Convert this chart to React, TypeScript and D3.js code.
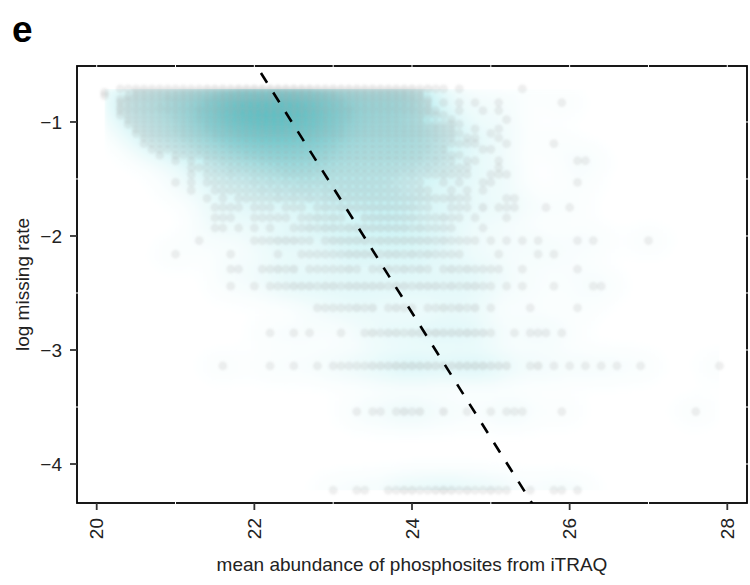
import React, { useMemo } from "react";
import * as d3 from "d3";

const W = 750;
const H = 585;
const M = { left: 77, right: 747, top: 66, bottom: 503 };

const xTicks = [20, 22, 24, 26, 28];
const yTicks = [-1, -2, -3, -4];
const topMarks = [20, 21, 22, 23, 24, 25, 26, 27, 28];
const bottomMarks = [21, 23, 25, 27];
const leftMarks = [-1.5, -2.5, -3.5];
const rightMarks = [-1, -1.5, -2, -2.5, -3, -3.5, -4];

const xDomain = [19.75, 28.25];
const yDomain = [-4.342, -0.509];

const xLabel = "mean abundance of phosphosites from iTRAQ";
const yLabel = "log missing rate";
const panelLabel = "e";

// x bins: first bin at 20.0, width 0.1 (each char = number of overlapping sites)
const binOrigin = 20.0;
const binStep = 0.1;

// log missing rate of each row of points (bottom to top)
const rowLevels = [
  -4.23, -3.54, -3.14, -2.85, -2.63, -2.44, -2.29, -2.16, -2.04, -1.93, -1.84, -1.75,
  -1.67, -1.6, -1.53, -1.46, -1.4, -1.34, -1.29, -1.24, -1.19, -1.14, -1.1, -1.06,
  -1.02, -0.98, -0.94, -0.9, -0.87, -0.83, -0.8, -0.77, -0.74, -0.71,
];

// counts per x bin for each row (groups: 20.x 21.x 22.x 23.x 24.x 25.x 26.x 27.x)
const rowCounts = [
  "0000000000 0000000000 0000000000 1001100112 2112321211 2110010011 0100000000 0000000000",
  "0000000000 0000000000 0000000000 0001011012 1200200100 1011100001 0000000000 0000001000",
  "0000000000 0000001000 0010010010 1111122233 3332223333 2220012010 1010101001 0000000001",
  "0000000000 0000000000 0010010100 0100121221 2223222322 1001011101 0000000000 0000000000",
  "0000000000 0000000000 0000000011 1112120121 1011212120 1000010000 0100000000 0000000000",
  "0000000000 0000000100 1011122212 2122222122 1222121221 1010100010 0001100000 0000000000",
  "0000000000 0000000110 0112120111 1121011212 1210121211 1100100000 0100000000 0000000000",
  "0000000000 1000000100 0001001111 1122221221 2121111000 0100001010 0000000000 0000000000",
  "0000000000 0001000000 1112221101 2222212222 2221211110 1010101000 0101000000 1000000000",
  "0000000000 0000011010 1010011212 2122222222 1211110001 0000000000 0000000000 0000000000",
  "0000000000 0000011100 1111101121 2100222222 2111211010 0010000000 0000000000 0000000000",
  "0000000000 0000011110 1110111012 1222222222 2110011102 0111000100 1000000000 0000000000",
  "0000000000 0000101011 1112121212 2222222222 2221121100 0011000000 0000000000 0000000000",
  "0000000000 0010011111 1212122212 2222222221 1210010101 0000000000 0000000000 0000000000",
  "0000000000 1010111111 2121212222 2222222211 1100101001 1000000000 0100000000 0000000000",
  "0000000000 0010111211 2222333322 2222222221 2111211100 1110000000 0000000000 0000000000",
  "0000000000 0011111222 2223333332 2222222222 2121111100 0100000000 0000000000 0000000000",
  "0000000000 1010112222 2333333333 2222222222 2212110110 0100000000 0110000000 0000000000",
  "0000000010 1111222223 3333333333 2222222222 2211111000 0000000000 0000000000 0000000000",
  "0000000111 1112222333 3444444333 3222222222 2221200001 1000000000 0000000000 0000000000",
  "0000001111 1122223334 4444444433 3222222222 2221111110 0010000010 0000000000 0000000000",
  "0000001111 1222233344 4444444443 3322222222 2212110110 0100000000 0000000000 0000000000",
  "0000011111 1222233444 4555555444 3322222222 2221111000 1000000000 0000000000 0000000000",
  "0000011111 2222334445 5555555444 3322222222 2212110010 0100000000 0000000000 0000000000",
  "0000111111 1222334455 5555555444 3322222222 2211111000 0000000000 0000000000 0000000000",
  "0000111111 2223344455 5555555544 3332222221 1100010000 0010000000 0000000000 0000000000",
  "0001111111 2223344555 5555555544 3332222222 2211100000 0000000000 0000000000 0000000000",
  "0001111112 2223344555 5555555544 3332222222 2221001001 0100000000 0000000000 0000000000",
  "0001111122 2223344555 5555555544 3332222222 2110000000 0000000000 0000000000 0000000000",
  "0001111111 2222334455 5555555443 3322222222 2210101010 0100000001 0000000000 0000000000",
  "0001111112 2222334455 5555554443 3322222222 2110000000 0000000000 0000000000 0000000000",
  "0100111112 2222233444 4444444433 3222222222 2100000000 0000000000 0000000000 0000000000",
  "0100011111 1222223333 3334444333 3222222222 1100000000 0000000000 0000000000 0000000000",
  "0001111111 1111222233 3333333322 2222222222 2121101000 0000100000 0000000000 0000000000",
];

// fitted line: log missing rate = intercept + slope * abundance
const fitIntercept = 23.655;
const fitSlope = -1.097;

const FONT = "'Liberation Sans', Arial, Helvetica, sans-serif";

type Pt = { xv: number; yv: number; c: number };

export default function App() {
  const x = d3.scaleLinear().domain(xDomain).range([M.left, M.right]);
  const y = d3.scaleLinear().domain(yDomain).range([M.bottom, M.top]);

  const points: Pt[] = useMemo(() => {
    const pts: Pt[] = [];
    rowCounts.forEach((s, r) => {
      const str = s.replace(/\s/g, "");
      for (let i = 0; i < str.length; i++) {
        const c = +str[i];
        if (c > 0) pts.push({ xv: binOrigin + i * binStep, yv: rowLevels[r], c });
      }
    });
    return pts;
  }, []);

  const density = useMemo(() => {
    const cell = 4;
    const bx0 = x(d3.min(points, (p) => p.xv)!);
    const bx1 = x(d3.max(points, (p) => p.xv)!);
    const by0 = y(d3.max(points, (p) => p.yv)!);
    const by1 = y(d3.min(points, (p) => p.yv)!);
    const nx = Math.ceil((bx1 - bx0) / cell) + 1;
    const ny = Math.ceil((by1 - by0) / cell) + 1;
    const grid = new Float64Array(nx * ny);
    const sx = 16;
    const sy = 12;
    for (const p of points) {
      const px = x(p.xv);
      const py = y(p.yv);
      const i0 = Math.max(0, Math.floor((px - 3 * sx - bx0) / cell));
      const i1 = Math.min(nx - 1, Math.ceil((px + 3 * sx - bx0) / cell));
      const j0 = Math.max(0, Math.floor((py - 3 * sy - by0) / cell));
      const j1 = Math.min(ny - 1, Math.ceil((py + 3 * sy - by0) / cell));
      for (let j = j0; j <= j1; j++) {
        const dy = by0 + j * cell + cell / 2 - py;
        const wy = Math.exp(-(dy * dy) / (2 * sy * sy));
        for (let i = i0; i <= i1; i++) {
          const dx = bx0 + i * cell + cell / 2 - px;
          grid[j * nx + i] += p.c * wy * Math.exp(-(dx * dx) / (2 * sx * sx));
        }
      }
    }
    let mx = 0;
    for (let k = 0; k < grid.length; k++) if (grid[k] > mx) mx = grid[k];
    const col = d3.interpolateRgb("#ffffff", "#34ced5");
    const cells: { x: number; y: number; fill: string }[] = [];
    for (let j = 0; j < ny; j++) {
      for (let i = 0; i < nx; i++) {
        const t = Math.pow(grid[j * nx + i] / mx, 0.75);
        if (t < 0.006) continue;
        cells.push({ x: bx0 + i * cell, y: by0 + j * cell, fill: col(t) });
      }
    }
    return { cells, cell, bx0, bx1, by0, by1 };
  }, [points]);

  const lineData: [number, number][] = [
    [xDomain[0], fitIntercept + fitSlope * xDomain[0]],
    [xDomain[1], fitIntercept + fitSlope * xDomain[1]],
  ];
  const linePath = d3
    .line<[number, number]>()
    .x((d) => x(d[0]))
    .y((d) => y(d[1]))(lineData)!;

  const dotOpacity = (c: number) => Math.min(0.3, 0.2 + 0.03 * (c - 1));

  return (
    <svg
      width={W}
      height={H}
      style={{ position: "absolute", left: 0, top: 0, background: "#fff" }}
      fontFamily={FONT}
    >
      <defs>
        <clipPath id="plotClip">
          <rect x={M.left} y={M.top} width={M.right - M.left} height={M.bottom - M.top} />
        </clipPath>
        <clipPath id="densClip">
          <rect
            x={density.bx0}
            y={density.by0}
            width={density.bx1 - density.bx0}
            height={density.by1 - density.by0}
          />
        </clipPath>
        <filter id="densBlur" x="-5%" y="-5%" width="110%" height="110%">
          <feGaussianBlur stdDeviation="2.5" />
        </filter>
        <filter id="dotBlur" x="-5%" y="-5%" width="110%" height="110%">
          <feGaussianBlur stdDeviation="0.9" />
        </filter>
      </defs>
      <rect x={0} y={0} width={W} height={H} fill="#fff" />

      <g clipPath="url(#densClip)">
        <g filter="url(#densBlur)">
          {density.cells.map((c, i) => (
            <rect
              key={i}
              x={c.x}
              y={c.y}
              width={density.cell + 0.6}
              height={density.cell + 0.6}
              fill={c.fill}
            />
          ))}
        </g>
      </g>

      <g clipPath="url(#plotClip)">
        <g filter="url(#dotBlur)">
          {points.map((p, i) => (
            <circle
              key={i}
              cx={x(p.xv)}
              cy={y(p.yv)}
              r={4.4}
              fill="#a8a8a8"
              fillOpacity={dotOpacity(p.c)}
            />
          ))}
        </g>
        <path
          d={linePath}
          fill="none"
          stroke="#000"
          strokeWidth={2.6}
          strokeDasharray="11.5,11.5"
        />
      </g>

      <rect
        x={M.left}
        y={M.top}
        width={M.right - M.left}
        height={M.bottom - M.top}
        fill="none"
        stroke="#000"
        strokeWidth={1.8}
      />
      {topMarks.map((t) => (
        <line key={"tm" + t} x1={x(t)} x2={x(t)} y1={M.top - 1.5} y2={M.top + 1.5} stroke="#fff" strokeWidth={1} />
      ))}
      {bottomMarks.map((t) => (
        <line key={"bm" + t} x1={x(t)} x2={x(t)} y1={M.bottom - 1.5} y2={M.bottom + 1.5} stroke="#fff" strokeWidth={1} />
      ))}
      {leftMarks.map((t) => (
        <line key={"lm" + t} x1={M.left - 1.5} x2={M.left + 1.5} y1={y(t)} y2={y(t)} stroke="#fff" strokeWidth={1} />
      ))}
      {rightMarks.map((t) => (
        <line key={"rm" + t} x1={M.right - 1.5} x2={M.right + 1.5} y1={y(t)} y2={y(t)} stroke="#fff" strokeWidth={1} />
      ))}

      {yTicks.map((t) => (
        <g key={"yt" + t}>
          <line x1={M.left - 7} x2={M.left} y1={y(t)} y2={y(t)} stroke="#333" strokeWidth={1.8} />
          <text x={M.left - 15} y={y(t)} dy="0.35em" textAnchor="end" fontSize={19} fill="#222">
            {"\u2212" + Math.abs(t)}
          </text>
        </g>
      ))}
      {xTicks.map((t) => (
        <g key={"xt" + t}>
          <line x1={x(t)} x2={x(t)} y1={M.bottom} y2={M.bottom + 7} stroke="#333" strokeWidth={1.8} />
          <text
            transform={`translate(${x(t)},${M.bottom + 15}) rotate(-90)`}
            dy="0.35em"
            textAnchor="end"
            fontSize={19}
            fill="#222"
          >
            {t}
          </text>
        </g>
      ))}

      <text
        x={(M.left + M.right) / 2}
        y={571}
        textAnchor="middle"
        fontSize={19}
        fill="#222"
      >
        {xLabel}
      </text>
      <text
        transform={`translate(29,${(M.top + M.bottom) / 2}) rotate(-90)`}
        textAnchor="middle"
        fontSize={19}
        fill="#222"
      >
        {yLabel}
      </text>
      <text x={12} y={42} fontSize={37} fontWeight="bold" fill="#000">
        {panelLabel}
      </text>
    </svg>
  );
}
